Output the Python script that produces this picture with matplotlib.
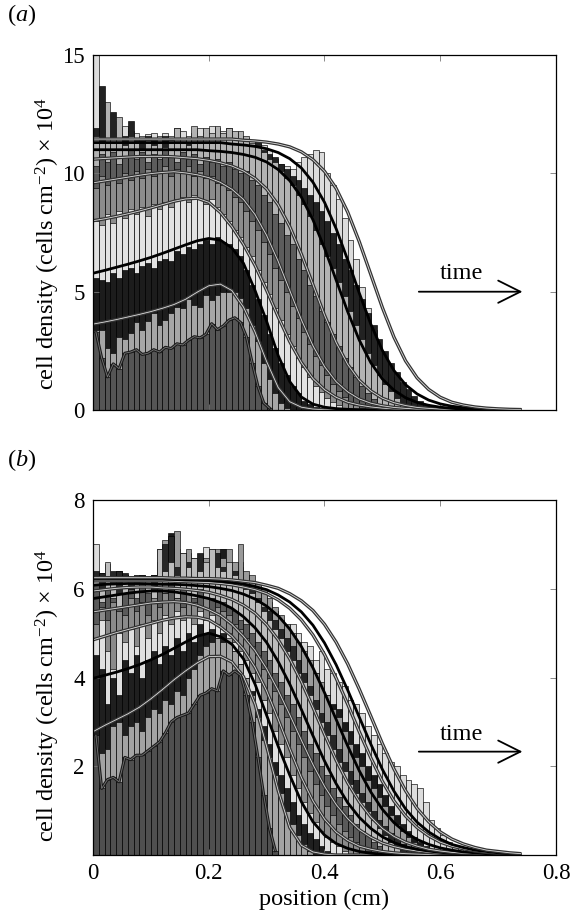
import numpy as np
import matplotlib
matplotlib.use('Agg')
import matplotlib.pyplot as plt

plt.rcParams['font.family'] = ['Liberation Serif', 'DejaVu Serif']
plt.rcParams['mathtext.fontset'] = 'custom'
plt.rcParams['mathtext.rm'] = 'Liberation Serif'
plt.rcParams['mathtext.it'] = 'Liberation Serif:italic'

BIN_WIDTH = 0.01
CURVE_X = np.round(np.arange(38) * 0.02, 2)   # model output grid, 0 .. 0.74 cm

# ---------------- panel (a): histogram heights per time, 0.01 cm bins ----------------
A_BAR_T1 = [3.3, 2.2, 1.4, 1.95, 1.75, 2.4, 2.45, 2.55, 2.35, 2.4, 2.55, 2.45, 2.65, 2.6, 2.8, 2.75,
            2.95, 3.1, 3.05, 3.2, 3.65, 3.4, 3.55, 3.8, 3.9, 3.7, 3.1, 2.0, 1.0, 0.3, 0.08]
A_BAR_T2 = [3.4, 3.4, 2.6, 2.4, 3.1, 3.0, 3.25, 3.7, 3.4, 3.75, 4.1, 3.6, 3.8, 4.1, 4.35, 4.3, 4.7,
            4.45, 4.35, 4.85, 4.65, 4.85, 5.0, 5.0, 5.0, 4.75, 4.3, 3.6, 2.9, 2.0, 1.3, 0.7, 0.3, 0.1]
A_BAR_T3 = [5.6, 5.5, 5.4, 5.8, 5.6, 5.9, 6.0, 5.8, 6.1, 6.2, 6.0, 6.3, 6.4, 6.3, 6.7, 6.6, 6.9, 6.8,
            7.0, 7.2, 7.0, 7.3, 7.1, 7.0, 6.8, 6.5, 5.9, 5.3, 4.7, 4.0, 3.2, 2.6, 2.0, 1.5, 1.0, 0.7,
            0.4, 0.25, 0.12, 0.06]
A_BAR_T4 = [8.0, 7.8, 8.3, 7.9, 8.4, 8.1, 8.5, 8.3, 8.6, 8.2, 8.7, 8.5, 8.8, 8.6, 8.9, 9.0, 8.8, 9.1,
            8.9, 8.7, 8.9, 8.6, 8.3, 8.0, 7.6, 7.3, 6.9, 6.5, 5.9, 5.4, 4.9, 4.3, 3.8, 3.2, 2.7, 2.2,
            1.8, 1.4, 1.0, 0.75, 0.5, 0.35, 0.2, 0.1]
A_BAR_T5 = [9.4, 9.9, 9.5, 9.8, 9.6, 10.0, 9.7, 10.1, 9.8, 10.2, 9.9, 10.1, 10.3, 9.9, 10.2, 10.0,
            10.3, 9.9, 10.1, 9.8, 9.9, 9.6, 9.5, 9.3, 9.0, 8.8, 8.4, 8.0, 7.6, 7.1, 6.6, 6.0, 5.5, 5.0,
            4.4, 3.9, 3.3, 2.8, 2.3, 1.9, 1.5, 1.1, 0.8, 0.55, 0.35, 0.2, 0.1]
A_BAR_T6 = [10.3, 10.8, 10.5, 10.9, 10.4, 10.7, 11.0, 10.6, 10.9, 10.5, 10.8, 10.6, 11.0, 10.7, 10.5,
            10.9, 10.6, 10.8, 10.4, 10.7, 10.5, 10.6, 10.3, 10.5, 10.2, 10.0, 10.1, 9.7, 9.5, 9.1, 8.8,
            8.3, 7.9, 7.4, 7.0, 6.4, 5.9, 5.3, 4.8, 4.2, 3.7, 3.2, 2.7, 2.2, 1.8, 1.4, 1.0, 0.7, 0.45,
            0.25, 0.12]
A_BAR_T7 = [11.6, 11.3, 13.0, 11.5, 12.4, 11.2, 11.6, 11.3, 11.0, 11.4, 11.2, 11.5, 11.1, 11.4, 11.9,
            11.5, 11.2, 12.0, 11.6, 11.9, 11.7, 12.0, 11.7, 11.9, 11.8, 11.8, 11.6, 11.3, 11.1, 10.9,
            10.6, 10.5, 10.1, 9.8, 9.5, 9.1, 8.7, 8.2, 7.6, 7.0, 6.5, 6.0, 5.4, 4.8, 4.2, 3.6, 3.0, 2.4,
            1.9, 1.5, 1.1, 0.8, 0.5, 0.3, 0.15]
A_BAR_T8 = [11.9, 13.7, 11.8, 12.6, 11.7, 11.6, 12.2, 11.5, 11.4, 11.6, 11.5, 11.3, 11.6, 11.4, 11.2,
            11.5, 11.3, 11.6, 11.4, 11.2, 11.5, 11.3, 11.4, 11.2, 11.3, 11.5, 11.3, 11.2, 11.4, 11.0,
            10.8, 10.7, 10.4, 10.2, 9.9, 9.7, 9.4, 9.1, 8.8, 8.4, 8.0, 7.5, 7.0, 6.4, 5.9, 5.3, 4.7,
            4.1, 3.6, 3.0, 2.5, 2.0, 1.6, 1.2, 0.9, 0.6, 0.4, 0.25, 0.12]
A_BAR_T9 = [15.0, 13.0, 12.5, 12.2, 11.9, 12.0, 11.8, 11.7, 11.6, 11.65, 11.7, 11.6, 11.7, 11.6, 11.9,
            11.8, 11.6, 11.7, 11.9, 11.7, 12.0, 11.9, 11.8, 11.9, 11.7, 11.6, 11.5, 11.4, 11.3, 11.2,
            11.0, 10.6, 10.4, 10.3, 10.2, 10.5, 10.7, 10.8, 11.0, 10.9, 10.0, 9.5, 8.9, 8.1, 7.2, 6.4,
            5.2, 4.3, 3.4, 2.6, 2.0, 1.4, 0.9, 0.5, 0.3, 0.15, 0.08, 0.04]

# panel (a): model curves on CURVE_X
A_FIT_T2 = [3.63, 3.72, 3.82, 3.93, 4.04, 4.16, 4.30, 4.46, 4.68, 4.98, 5.25, 5.32, 5.05, 4.35, 3.30,
            2.05, 0.95, 0.35, 0.12, 0.04, 0.01] + [0.0] * 17
A_FIT_T3 = [5.78, 5.90, 6.03, 6.16, 6.30, 6.45, 6.62, 6.80, 6.98, 7.15, 7.25, 7.18, 6.85, 6.20, 5.05,
            3.75, 2.30, 1.20, 0.55, 0.25, 0.12, 0.06, 0.03, 0.01] + [0.0] * 14
A_FIT_T4 = [8.00, 8.08, 8.18, 8.29, 8.41, 8.54, 8.68, 8.82, 8.92, 8.95, 8.78, 8.35, 7.75, 7.00, 6.11,
            5.06, 3.94, 2.89, 2.01, 1.33, 0.86, 0.54, 0.33, 0.21, 0.13, 0.08, 0.05, 0.03, 0.02, 0.01,
            0.01, 0.0, 0.0, 0.0, 0.0, 0.0, 0.0, 0.0]
A_FIT_T5 = [9.60, 9.68, 9.76, 9.84, 9.92, 9.99, 10.04, 10.07, 10.02, 9.94, 9.82, 9.62, 9.33, 8.90,
            8.26, 7.38, 6.28, 5.05, 3.82, 2.72, 1.84, 1.20, 0.77, 0.47, 0.29, 0.18, 0.11, 0.07, 0.04,
            0.03, 0.02, 0.01, 0.01, 0.0, 0.0, 0.0, 0.0, 0.0]
A_FIT_T6 = [10.60, 10.63, 10.66, 10.69, 10.71, 10.72, 10.72, 10.70, 10.66, 10.62, 10.55, 10.45, 10.31,
            10.10, 9.79, 9.34, 8.67, 7.75, 6.59, 5.30, 4.01, 2.85, 1.93, 1.26, 0.81, 0.50, 0.31, 0.19,
            0.11, 0.07, 0.04, 0.03, 0.02, 0.01, 0.01, 0.0, 0.0, 0.0]
A_FIT_T7 = [11.0, 11.0, 11.0, 11.0, 11.0, 11.0, 11.0, 11.0, 11.0, 11.0, 10.96, 10.93, 10.88, 10.80,
            10.68, 10.48, 10.16, 9.69, 9.00, 8.04, 6.84, 5.50, 4.16, 2.96, 2.00, 1.31, 0.84, 0.52,
            0.32, 0.20, 0.12, 0.07, 0.04, 0.03, 0.02, 0.01, 0.01, 0.0]
A_FIT_T8 = [11.3, 11.3, 11.3, 11.3, 11.3, 11.3, 11.3, 11.3, 11.3, 11.3, 11.3, 11.3, 11.24, 11.20,
            11.14, 11.04, 10.88, 10.62, 10.23, 9.63, 8.78, 7.67, 6.35, 4.95, 3.63, 2.52, 1.67, 1.07,
            0.68, 0.42, 0.26, 0.16, 0.10, 0.06, 0.04, 0.02, 0.01, 0.01]
A_FIT_T9 = [11.45, 11.45, 11.45, 11.45, 11.45, 11.45, 11.45, 11.45, 11.45, 11.45, 11.45, 11.45, 11.45,
            11.40, 11.37, 11.32, 11.24, 11.12, 10.91, 10.58, 10.09, 9.37, 8.37, 7.12, 5.73, 4.33,
            3.08, 2.08, 1.36, 0.87, 0.54, 0.33, 0.21, 0.13, 0.08, 0.05, 0.03, 0.02]

# ---------------- panel (b) ----------------
B_BAR_T1 = [2.7, 1.5, 1.7, 1.75, 1.65, 2.2, 2.15, 2.25, 2.25, 2.35, 2.45, 2.55, 2.75, 3.0, 3.1, 3.15,
            3.2, 3.4, 3.6, 3.65, 3.75, 3.7, 4.15, 4.05, 4.15, 4.05, 3.6, 3.0, 2.2, 1.35, 0.6, 0.1]
B_BAR_T2 = [2.6, 2.3, 2.4, 2.9, 3.0, 2.7, 2.9, 3.0, 2.8, 3.1, 3.3, 3.2, 3.5, 3.4, 3.7, 3.6, 4.0, 4.2,
            4.5, 4.7, 4.8, 4.9, 4.8, 4.9, 4.6, 4.3, 4.0, 3.6, 3.1, 2.6, 2.2, 1.8, 1.4, 1.0, 0.7, 0.45,
            0.25, 0.1]
B_BAR_T3 = [4.5, 4.2, 3.4, 4.0, 3.6, 4.4, 4.1, 4.5, 4.0, 4.4, 4.6, 4.3, 4.7, 4.5, 4.9, 4.6, 5.0, 4.8,
            5.2, 5.0, 5.1, 4.9, 5.0, 4.7, 4.6, 4.3, 4.0, 3.7, 3.3, 2.9, 2.5, 2.1, 1.8, 1.5, 1.2, 0.9,
            0.7, 0.5, 0.35, 0.2, 0.1]
B_BAR_T4 = [4.9, 5.3, 4.6, 4.2, 5.0, 4.8, 5.1, 4.7, 5.2, 4.9, 5.3, 5.0, 5.4, 5.2, 5.5, 5.3, 5.4, 5.2,
            5.5, 5.3, 5.4, 5.2, 5.1, 5.0, 4.8, 4.6, 4.4, 4.1, 3.9, 3.5, 3.2, 2.8, 2.5, 2.2, 1.8, 1.5,
            1.2, 0.95, 0.75, 0.55, 0.4, 0.3, 0.2, 0.1]
B_BAR_T5 = [5.2, 5.6, 5.3, 5.7, 5.5, 5.4, 5.8, 5.5, 5.7, 5.4, 5.8, 5.6, 5.9, 5.7, 5.8, 5.6, 5.9, 5.7,
            5.6, 5.8, 5.5, 5.6, 5.5, 5.4, 5.2, 5.1, 4.9, 4.7, 4.5, 4.2, 4.0, 3.7, 3.4, 3.1, 2.8, 2.5,
            2.2, 1.9, 1.6, 1.35, 1.1, 0.9, 0.7, 0.55, 0.4, 0.3, 0.2, 0.1]
B_BAR_T6 = [6.1, 5.7, 6.0, 5.8, 5.6, 5.9, 6.0, 5.8, 6.1, 5.9, 5.7, 6.0, 5.9, 6.1, 5.8, 6.0, 5.9, 5.8,
            6.0, 5.7, 5.8, 5.7, 5.7, 5.6, 5.5, 5.3, 5.2, 5.0, 4.8, 4.6, 4.4, 4.1, 3.9, 3.6, 3.4, 3.1,
            2.8, 2.5, 2.3, 2.0, 1.8, 1.5, 1.3, 1.1, 0.9, 0.7, 0.55, 0.45, 0.3, 0.2, 0.1]
B_BAR_T7 = [6.2, 6.0, 6.6, 6.1, 5.9, 6.2, 6.0, 6.1, 5.9, 6.2, 6.0, 6.9, 6.4, 6.6, 6.3, 6.8, 6.5, 6.7,
            6.4, 6.6, 6.9, 6.5, 6.4, 6.6, 6.3, 6.2, 6.0, 5.9, 5.7, 5.5, 5.3, 5.1, 4.9, 4.6, 4.4, 4.1,
            3.9, 3.6, 3.3, 3.0, 2.7, 2.4, 2.1, 1.9, 1.6, 1.4, 1.2, 1.0, 0.8, 0.6, 0.45, 0.3, 0.2, 0.1]
B_BAR_T8 = [6.4, 6.35, 6.2, 6.4, 6.4, 6.35, 6.1, 6.2, 6.0, 6.1, 6.3, 6.6, 7.0, 7.2, 6.5, 6.3, 6.6,
            6.2, 6.8, 6.5, 6.4, 6.8, 6.5, 6.3, 6.4, 6.2, 6.1, 6.0, 5.8, 5.6, 5.5, 5.3, 5.1, 4.9, 4.7,
            4.4, 4.1, 3.8, 3.5, 3.2, 3.0, 2.7, 2.4, 2.1, 1.9, 1.7, 1.4, 1.2, 1.0, 0.8, 0.65, 0.5, 0.35,
            0.25, 0.15, 0.08]
B_BAR_T9 = [6.3, 6.2, 6.3, 6.25, 6.3, 6.2, 6.25, 6.3, 6.2, 6.25, 6.3, 6.9, 7.1, 6.8, 7.3, 6.6, 6.9,
            6.7, 6.6, 6.7, 6.6, 6.9, 6.7, 6.9, 6.6, 7.0, 6.4, 6.3, 6.1, 6.0, 5.8, 5.6, 5.4, 5.2, 5.0,
            4.8, 4.6, 4.4, 4.1, 3.9, 3.6, 3.3, 3.1, 2.8, 2.5, 2.2, 2.0, 1.7, 1.5, 1.3, 1.1, 0.9, 0.7,
            0.55, 0.4, 0.3, 0.2, 0.1]
B_BAR_T10 = [6.3, 6.35, 6.3, 6.2, 6.4, 6.3, 6.2, 6.25, 6.3, 6.2, 6.25, 6.5, 6.9, 7.25, 6.7, 6.6, 6.8,
             6.5, 6.7, 6.6, 6.7, 6.5, 6.9, 6.5, 6.4, 6.5, 6.3, 6.1, 6.0, 5.9, 5.7, 5.5, 5.3, 5.1, 4.9,
             4.7, 4.5, 4.3, 4.1, 3.8, 3.6, 3.4, 3.3, 3.0, 2.8, 2.5, 2.3, 2.0, 1.8, 1.6, 1.35, 1.1, 0.9,
             0.7, 0.55, 0.4, 0.3, 0.2, 0.1]
B_BAR_T11 = [7.0, 6.3, 6.55, 6.3, 6.3, 6.3, 6.25, 6.3, 6.3, 6.25, 6.3, 6.6, 6.8, 6.9, 6.9, 6.8, 6.6,
             6.7, 6.6, 6.95, 6.9, 6.6, 6.9, 6.6, 6.5, 6.6, 6.3, 6.1, 5.9, 5.8, 5.6, 5.5, 5.2, 5.0, 5.2,
             5.0, 4.8, 4.7, 4.4, 4.6, 4.2, 4.1, 3.9, 3.8, 3.5, 3.4, 3.2, 2.9, 2.7, 2.5, 2.3, 2.1, 2.0,
             1.8, 1.7, 1.6, 1.5, 1.2, 0.8, 0.6, 0.45, 0.3, 0.22, 0.15, 0.1, 0.05]

B_FIT_T2 = [2.78, 2.92, 3.05, 3.18, 3.33, 3.52, 3.73, 3.95, 4.15, 4.33, 4.47, 4.48, 4.35, 4.02, 3.40,
            2.45, 1.45, 0.62, 0.22, 0.07, 0.02] + [0.0] * 17
B_FIT_T3 = [3.98, 4.05, 4.12, 4.20, 4.29, 4.40, 4.52, 4.66, 4.80, 4.93, 5.00, 4.92, 4.75, 4.42, 3.85,
            3.15, 2.45, 1.80, 1.20, 0.75, 0.45, 0.26, 0.15, 0.08, 0.04, 0.02, 0.01] + [0.0] * 11
B_FIT_T4 = [4.85, 4.93, 5.01, 5.08, 5.15, 5.22, 5.29, 5.34, 5.37, 5.36, 5.30, 5.14, 4.93, 4.64, 4.23,
            3.70, 3.06, 2.39, 1.75, 1.22, 0.81, 0.52, 0.33, 0.20, 0.13, 0.08, 0.05, 0.03, 0.02, 0.01,
            0.01, 0.0, 0.0, 0.0, 0.0, 0.0, 0.0, 0.0]
B_FIT_T5 = [5.48, 5.52, 5.56, 5.60, 5.64, 5.68, 5.70, 5.71, 5.69, 5.63, 5.53, 5.40, 5.20, 4.93, 4.61,
            4.20, 3.71, 3.16, 2.59, 2.04, 1.55, 1.14, 0.82, 0.57, 0.40, 0.27, 0.19, 0.13, 0.09, 0.06,
            0.04, 0.03, 0.02, 0.01, 0.01, 0.0, 0.0, 0.0]
B_FIT_T6 = [5.78, 5.82, 5.86, 5.90, 5.93, 5.95, 5.95, 5.93, 5.89, 5.84, 5.78, 5.69, 5.56, 5.37, 5.12,
            4.79, 4.36, 3.85, 3.28, 2.69, 2.12, 1.61, 1.18, 0.85, 0.60, 0.41, 0.28, 0.19, 0.13, 0.09,
            0.06, 0.04, 0.03, 0.02, 0.01, 0.01, 0.0, 0.0]
B_FIT_T7 = [5.95, 5.98, 6.01, 6.03, 6.04, 6.04, 6.02, 6.01, 5.99, 5.96, 5.92, 5.85, 5.76, 5.63, 5.45,
            5.19, 4.85, 4.42, 3.91, 3.33, 2.72, 2.14, 1.63, 1.20, 0.86, 0.60, 0.42, 0.29, 0.20, 0.13,
            0.09, 0.06, 0.04, 0.03, 0.02, 0.01, 0.01, 0.0]
B_FIT_T8 = [6.08, 6.10, 6.11, 6.12, 6.12, 6.11, 6.10, 6.10, 6.09, 6.07, 6.05, 6.01, 5.96, 5.88, 5.77,
            5.61, 5.39, 5.09, 4.70, 4.22, 3.66, 3.06, 2.46, 1.90, 1.42, 1.03, 0.73, 0.51, 0.35, 0.24,
            0.16, 0.11, 0.07, 0.05, 0.03, 0.02, 0.01, 0.01]
B_FIT_T9 = [6.18, 6.18, 6.18, 6.18, 6.18, 6.18, 6.18, 6.17, 6.16, 6.15, 6.14, 6.12, 6.09, 6.04, 5.98,
            5.89, 5.75, 5.56, 5.30, 4.96, 4.52, 3.99, 3.40, 2.78, 2.19, 1.66, 1.22, 0.88, 0.62, 0.43,
            0.29, 0.20, 0.14, 0.09, 0.06, 0.04, 0.03, 0.02]
B_FIT_T10 = [6.22, 6.22, 6.22, 6.22, 6.22, 6.22, 6.22, 6.21, 6.20, 6.20, 6.19, 6.17, 6.14, 6.11, 6.05,
             5.98, 5.86, 5.70, 5.48, 5.18, 4.78, 4.29, 3.72, 3.11, 2.50, 1.93, 1.44, 1.04, 0.74, 0.52,
             0.36, 0.24, 0.17, 0.11, 0.08, 0.05, 0.03, 0.02]
B_FIT_T11 = [6.25, 6.25, 6.25, 6.25, 6.25, 6.25, 6.25, 6.24, 6.24, 6.23, 6.23, 6.22, 6.20, 6.17, 6.14,
             6.08, 6.01, 5.89, 5.73, 5.51, 5.20, 4.80, 4.31, 3.74, 3.13, 2.51, 1.94, 1.45, 1.05, 0.75,
             0.52, 0.36, 0.25, 0.17, 0.11, 0.08, 0.05, 0.03]

A_BARS = [A_BAR_T1, A_BAR_T2, A_BAR_T3, A_BAR_T4, A_BAR_T5, A_BAR_T6, A_BAR_T7, A_BAR_T8, A_BAR_T9]
A_FITS = [A_FIT_T2, A_FIT_T3, A_FIT_T4, A_FIT_T5, A_FIT_T6, A_FIT_T7, A_FIT_T8, A_FIT_T9]
B_BARS = [B_BAR_T1, B_BAR_T2, B_BAR_T3, B_BAR_T4, B_BAR_T5, B_BAR_T6, B_BAR_T7, B_BAR_T8, B_BAR_T9,
          B_BAR_T10, B_BAR_T11]
B_FITS = [B_FIT_T2, B_FIT_T3, B_FIT_T4, B_FIT_T5, B_FIT_T6, B_FIT_T7, B_FIT_T8, B_FIT_T9, B_FIT_T10,
          B_FIT_T11]

A_COLORS = ['#555555', '#a6a6a6', '#1c1c1c', '#e2e2e2', '#8c8c8c', '#5c5c5c', '#b3b3b3', '#222222',
            '#dcdcdc']
B_COLORS = ['#4f4f4f', '#a3a3a3', '#1f1f1f', '#e0e0e0', '#8a8a8a', '#5a5a5a', '#bdbdbd', '#262626',
            '#9a9a9a', '#1a1a1a', '#dcdcdc']
A_STYLES = ['double', 'black', 'double', 'double', 'double', 'black', 'black', 'double']
B_STYLES = ['double', 'black', 'double', 'double', 'black', 'double', 'black', 'double', 'black', 'double']

FS_TICK = 16.5
FS_LABEL = 17.5


def draw_panel(ax, bars, colors, fits, styles):
    # later times sit behind, earliest histogram in front
    for heights, color in reversed(list(zip(bars, colors))):
        left = np.arange(len(heights)) * BIN_WIDTH
        ax.bar(left, heights, width=BIN_WIDTH, align='edge', color=color,
               edgecolor='black', linewidth=0.45)
    for values, style in zip(fits, styles):
        if style == 'black':
            ax.plot(CURVE_X, values, color='black', lw=2.0, solid_capstyle='butt')
        else:
            ax.plot(CURVE_X, values, color='#333333', lw=2.4, solid_capstyle='butt')
            ax.plot(CURVE_X, values, color='#dddddd', lw=0.6, solid_capstyle='butt')
    first = bars[0]
    centers = np.arange(len(first)) * BIN_WIDTH + BIN_WIDTH / 2
    ax.plot(centers, first, color='#1a1a1a', lw=2.2)
    ax.plot(centers, first, color='#777777', lw=0.6)

    ax.set_xlim(0, 0.8)
    ax.set_xticks([0, 0.2, 0.4, 0.6, 0.8])
    ax.tick_params(direction='in', top=True, right=True, length=4, width=0.6,
                   color='#777777', labelsize=FS_TICK, pad=6)
    for sp in ax.spines.values():
        sp.set_linewidth(0.9)


def add_time_arrow(ax, y_arrow, y_text):
    ax.annotate('', xy=(0.742, y_arrow), xytext=(0.563, y_arrow),
                arrowprops=dict(arrowstyle='->,head_length=0.8,head_width=0.4',
                                lw=1.3, color='black', mutation_scale=20,
                                shrinkA=0, shrinkB=0))
    ax.text(0.637, y_text, 'time', ha='center', va='center', fontsize=FS_LABEL)


fig = plt.figure(figsize=(5.86, 9.13), dpi=100)
fig.patch.set_facecolor('white')

ylabel = r'cell density (cells cm$^{-2}$) × 10$^{4}$'

ax_a = fig.add_axes([0.1587, 0.5509, 0.7901, 0.3888])
draw_panel(ax_a, A_BARS, A_COLORS, A_FITS, A_STYLES)
ax_a.set_ylim(0, 15)
ax_a.set_yticks([0, 5, 10, 15])
ax_a.set_xticklabels([])
add_time_arrow(ax_a, 5.0, 5.75)
ax_a.set_ylabel(ylabel, fontsize=FS_LABEL)
ax_a.yaxis.set_label_coords(-0.066, 0.47)

ax_b = fig.add_axes([0.1587, 0.0635, 0.7901, 0.3888])
draw_panel(ax_b, B_BARS, B_COLORS, B_FITS, B_STYLES)
ax_b.set_ylim(0, 8)
ax_b.set_yticks([2, 4, 6, 8])
ax_b.set_xticklabels(['0', '0.2', '0.4', '0.6', '0.8'])
add_time_arrow(ax_b, 2.33, 2.72)
ax_b.set_ylabel(ylabel, fontsize=FS_LABEL)
ax_b.yaxis.set_label_coords(-0.066, 0.45)
ax_b.set_xlabel('position (cm)', fontsize=FS_LABEL, labelpad=3)

fig.text(0.012, 0.983, r'($\mathit{a}$)', fontsize=FS_LABEL, va='center', ha='left')
fig.text(0.012, 0.496, r'($\mathit{b}$)', fontsize=FS_LABEL, va='center', ha='left')

fig.savefig('out.png', dpi=100, facecolor='white')
